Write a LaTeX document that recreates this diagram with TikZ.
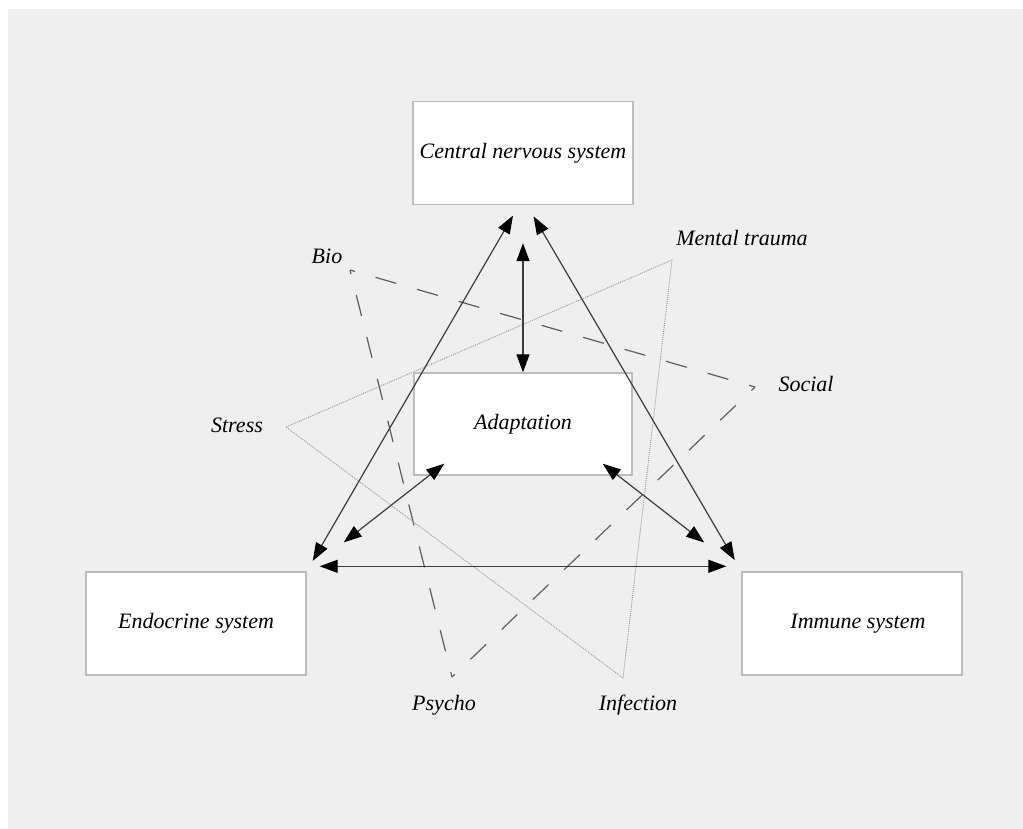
\documentclass[tikz,border=0pt]{standalone}
\usepackage{fontspec}
\setmainfont{Liberation Serif}
\usetikzlibrary{arrows.meta,positioning}
\definecolor{panelgray}{HTML}{EFEFEF}
\definecolor{boxline}{HTML}{BDBDBD}
\definecolor{arrowline}{HTML}{3C3C3C}
\definecolor{dashline}{HTML}{5E5E5E}
\definecolor{dotline}{HTML}{9A9A9A}
\tikzset{
  sysbox/.style={draw=boxline,line width=0.7pt,fill=white,
    minimum width=110pt,minimum height=51.5pt,inner sep=0pt,
    font=\fontsize{11}{13}\selectfont\itshape},
  factor/.style={inner sep=0pt,font=\fontsize{11}{13}\selectfont\itshape},
  twoway/.style={draw=arrowline,line width=0.6pt,
    {Triangle[length=9pt,width=6.5pt,color=black]}-{Triangle[length=9pt,width=6.5pt,color=black]}},
  dashtri/.style={draw=dashline,line width=0.6pt,
    dash pattern=on 10.8pt off 10.8pt,dash phase=8.3pt},
  dottri/.style={draw=dotline,line width=0.45pt,
    dash pattern=on 0.5pt off 0.5pt}
}
\begin{document}
\begin{tikzpicture}[x=0.5pt,y=-0.5pt]
\useasboundingbox (0,0) rectangle (1023,829);
\fill[white] (0,0) rectangle (1023,829);
\fill[panelgray] (8,9) rectangle (1023,829);

% corners of the two triangles
\coordinate (bioC) at (350,270);
\coordinate (socialC) at (755,387);
\coordinate (psychoC) at (452,677);
\coordinate (stressC) at (286,427);
\coordinate (traumaC) at (672,260);
\coordinate (infectC) at (623,678);

% bio-psycho-social
\draw[dashtri] (bioC) -- (socialC);
\draw[dashtri] (socialC) -- (psychoC);
\draw[dashtri] (psychoC) -- (bioC);
% stress-trauma-infection
\draw[dottri] (stressC) -- (traumaC) -- (infectC) -- cycle;

\node[factor] (bio) at (327,256) {Bio};
\node[factor] (social) at (806,384) {Social};
\node[factor] (psycho) at (444,705) {Psycho};
\node[factor] (stress) at (237,425) {Stress};
\node[factor] (trauma) at (742,238) {Mental trauma};
\node[factor] (infect) at (638,705) {Infection};

% the four systems
\node[sysbox] (cns) at (523,153) {Central nervous system};
\node[sysbox,minimum width=109pt,minimum height=51pt] (adapt) at (523,424) {Adaptation};
\node[sysbox] (endo) at (196,623.5) {Endocrine system};
\node[sysbox] (immune) at (852,623.5) {\hspace*{6pt}Immune system};

\draw[twoway,shorten <=6pt,shorten >=6pt] ([xshift=-2pt]cns.south) -- (endo.north east);
\draw[twoway,shorten <=6.5pt,shorten >=6.5pt] ([xshift=2pt]cns.south) -- (immune.north west);
\draw[twoway,shorten <=19pt] (cns.south) -- (adapt.north);
\draw[twoway,shorten >=23.5pt] ([shift={(15.5pt,6pt)}]adapt.south west) -- (endo.north east);
\draw[twoway,shorten >=23.5pt] ([shift={(-15pt,6pt)}]adapt.south east) -- (immune.north west);
\draw[twoway,shorten <=6.5pt,shorten >=7.5pt] ([yshift=2.5pt]endo.north east) -- ([yshift=2.5pt]immune.north west);
\end{tikzpicture}
\end{document}
